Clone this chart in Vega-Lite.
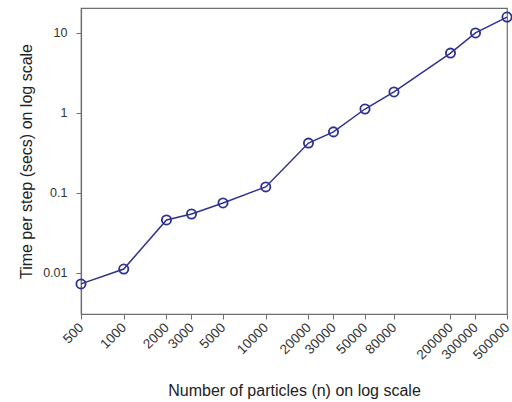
{
  "$schema": "https://vega.github.io/schema/vega-lite/v6.json",
  "width": 426,
  "height": 306,
  "autosize": {"type": "none"},
  "padding": {"left": 81, "top": 8, "right": 5, "bottom": 88},
  "background": "white",
  "config": {
    "font": "Liberation Sans",
    "view": {"stroke": "#6e6e6e", "strokeWidth": 1.2},
    "axis": {
      "grid": false,
      "domainColor": "#6e6e6e",
      "domainWidth": 1.2,
      "tickColor": "#6e6e6e",
      "tickSize": 5,
      "labelColor": "#333333",
      "labelFont": "Liberation Sans",
      "labelFontSize": 12.5,
      "labelOverlap": false,
      "titleFont": "Liberation Sans",
      "titleFontSize": 16,
      "titleFontWeight": "normal",
      "titleColor": "#222222"
    }
  },
  "data": {
    "values": [
      {"n": 500, "t": 0.0073},
      {"n": 1000, "t": 0.0112},
      {"n": 2000, "t": 0.046},
      {"n": 3000, "t": 0.0546},
      {"n": 5000, "t": 0.075},
      {"n": 10000, "t": 0.119},
      {"n": 20000, "t": 0.42},
      {"n": 30000, "t": 0.58},
      {"n": 50000, "t": 1.12},
      {"n": 80000, "t": 1.83},
      {"n": 200000, "t": 5.6},
      {"n": 300000, "t": 10},
      {"n": 500000, "t": 15.8}
    ]
  },
  "encoding": {
    "x": {
      "field": "n",
      "type": "quantitative",
      "scale": {"type": "log", "domain": [500, 500000], "nice": false},
      "axis": {
        "title": "Number of particles (n) on log scale",
        "values": [500, 1000, 2000, 3000, 5000, 10000, 20000, 30000, 50000, 80000, 200000, 300000, 500000],
        "format": "d",
        "labelAngle": -45,
        "labelAlign": "right",
        "labelBaseline": "middle",
        "labelFontSize": 13.5,
        "labelPadding": 6,
        "titlePadding": 21
      }
    },
    "y": {
      "field": "t",
      "type": "quantitative",
      "scale": {"type": "log", "domain": [0.00307, 20.5], "nice": false},
      "axis": {
        "title": "Time per step (secs) on log scale",
        "values": [0.01, 0.1, 1, 10],
        "format": "~g",
        "labelPadding": 9,
        "titlePadding": 8
      }
    }
  },
  "layer": [
    {
      "mark": {"type": "line", "color": "#2e3192", "strokeWidth": 1.5}
    },
    {
      "mark": {"type": "point", "shape": "circle", "filled": false, "color": "#2e3192", "strokeWidth": 1.8, "size": 85, "opacity": 1}
    }
  ]
}
